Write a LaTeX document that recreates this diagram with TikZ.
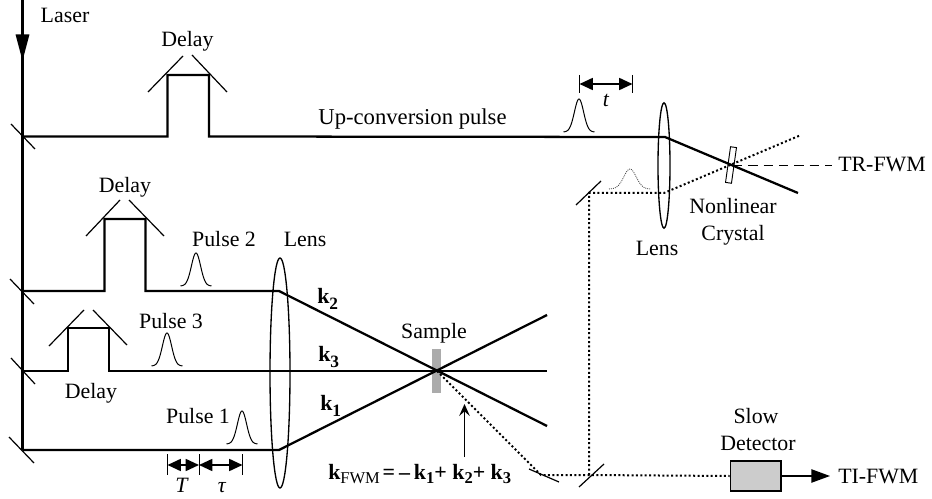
\documentclass[tikz,border=0pt]{standalone}
\usepackage{fontspec}
\setmainfont{Liberation Serif}
\usetikzlibrary{arrows.meta,shapes.geometric}
\tikzset{
  beam/.style={line width=1.7pt,line join=miter},
  optic/.style={line width=0.9pt},
  lensbody/.style={draw,ellipse,line width=1pt,inner sep=0pt},
  sig/.style={line width=1.5pt,dash pattern=on 1.5pt off 1.8pt},
  pulseline/.style={line width=0.75pt},
  faintpulse/.style={line width=0.6pt,dash pattern=on 0.7pt off 0.8pt,black!75},
  lab/.style={anchor=base,inner sep=0pt,font=\fontsize{16.4}{18}\selectfont},
  labl/.style={lab,anchor=base west},
  span/.style={line width=1.3pt,{Triangle[length=10pt,width=9pt]}-{Triangle[length=10pt,width=9pt]}},
  tick/.style={line width=0.6pt}
}
\newcommand{\gpulse}[5]{\draw[#5] plot[domain=-#4:#4,samples=41,smooth] ({#1+\x},{#2-#3*exp(-((\x/(#4*0.42))^2))});}
\newcommand{\ksb}[1]{\textbf{k}\raisebox{-4.6pt}{\fontsize{13}{14}\selectfont\textbf{#1}}}
\newcommand{\keq}[1]{\raisebox{-3.4pt}{\fontsize{12.4}{14}\selectfont #1}}
\begin{document}
\begin{tikzpicture}[x=0.75pt,y=-0.75pt]
\useasboundingbox (0,0) rectangle (932,499);
% named points
\coordinate (top) at (22.5,0);
\coordinate (s1) at (22.5,136.5);
\coordinate (s2) at (22.5,291);
\coordinate (s3) at (22.5,371);
\coordinate (s4) at (22.5,450);
\coordinate (d1a) at (167.5,136.5); \coordinate (d1b) at (167.5,75); \coordinate (d1c) at (209,75); \coordinate (d1d) at (209,136.5);
\coordinate (d2a) at (104.5,291); \coordinate (d2b) at (104.5,219); \coordinate (d2c) at (145.5,219); \coordinate (d2d) at (145.5,291);
\coordinate (d3a) at (68,371); \coordinate (d3b) at (68,328); \coordinate (d3c) at (109,328); \coordinate (d3d) at (109,371);
\coordinate (l1t) at (279,291); \coordinate (l1b) at (279,450);
\coordinate (x) at (437,371);
\coordinate (e1) at (547,315); \coordinate (e2) at (547,426); \coordinate (e3) at (547,371);
\coordinate (l2t) at (665,137); \coordinate (l2b) at (664,193);
\coordinate (uend) at (798,193);
\coordinate (c) at (733,165);
\coordinate (sigend) at (801,135);
\coordinate (m1) at (541,475); \coordinate (m2) at (589,475); \coordinate (m3) at (589,193);
\coordinate (trend) at (832,165);
\coordinate (tiend) at (830,476);
% optics nodes
\node[lensbody,minimum width=15pt,minimum height=172.5pt] (lensA) at (280,373) {};
\node[lensbody,minimum width=9pt,minimum height=94pt] (lensB) at (664,165.5) {};
\node[fill=black!33,inner sep=0pt,minimum width=6.75pt,minimum height=33pt] (sample) at (436.5,371) {};
\node[draw,line width=1pt,fill=black!20,inner sep=0pt,minimum width=38pt,minimum height=22.5pt] (det) at (755.5,476) {};
% laser
\draw[beam,-{Triangle[length=20pt,width=10pt,sep=0pt]}] (top) -- (22.5,61);
\draw[beam] (22.5,55) -- (s4);
% beams
\draw[beam] (s1) -- (d1a) -- (d1b) -- (d1c) -- (d1d) -- (l2t) -- (uend);
\draw[beam] (s2) -- (d2a) -- (d2b) -- (d2c) -- (d2d) -- (l1t) -- (e2);
\draw[beam] (s3) -- (d3a) -- (d3b) -- (d3c) -- (d3d) -- (e3);
\draw[beam] (s4) -- (l1b) -- (e1);
% splitters and mirrors
\draw[optic] (11,124) -- (35,149);
\draw[optic] (10,279) -- (34,304);
\draw[optic] (11,358) -- (35,384);
\draw[optic] (9,437) -- (34,463);
\draw[optic] (148,92) -- (183,56);
\draw[optic] (192,55) -- (227,92);
\draw[optic] (86,236) -- (120,200);
\draw[optic] (129,200) -- (164,236);
\draw[optic] (49,346) -- (84,310);
\draw[optic] (93,310) -- (127,345);
\draw[optic] (529,469) -- (559,482);
\draw[optic] (579,487) -- (604,464);
\draw[optic] (576,205) -- (601,181);
% signal
\draw[sig] (x) -- (m1) -- (m2) -- (det.west);
\draw[sig] (m2) -- (m3) -- (l2b) -- (sigend);
\draw[line width=0.7pt,dash pattern=on 7pt off 4.5pt] (c) -- (trend);
\node[draw,line width=0.7pt,inner sep=0pt,minimum width=4.5pt,minimum height=27pt,rotate=-8] (crystal) at (731,165) {};
% detector arrow
\draw[line width=1pt,-{Triangle[length=14pt,width=10pt]}] (det.east) -- (tiend);
% pulses
\gpulse{196}{286}{33}{15.5}{pulseline}
\gpulse{167}{366}{33}{15.5}{pulseline}
\gpulse{242}{444}{33}{15.5}{pulseline}
\gpulse{579}{132}{33}{15.5}{pulseline}
\gpulse{630}{189}{20}{21}{faintpulse}
% span arrows
\coordinate (Ta) at (167.5,465); \coordinate (Tb) at (199,465); \coordinate (Tc) at (242.5,465);
\coordinate (ta) at (579.5,84); \coordinate (tb) at (632.5,84);
\draw[tick] (167.5,454) -- (167.5,475);
\draw[tick] (199,454) -- (199,475);
\draw[tick] (242.5,454) -- (242.5,475);
\draw[tick] (579.5,75) -- (579.5,93);
\draw[tick] (632.5,75) -- (632.5,93);
\draw[span] (Ta) -- (Tb);
\draw[span] (Tb) -- (Tc);
\draw[span] (ta) -- (tb);
% FWM arrow
\coordinate (ka) at (464.5,457); \coordinate (kb) at (464.5,404);
\draw[line width=0.9pt,-{Stealth[length=9pt,width=8pt,inset=3.5pt]}] (ka) -- (kb);
% labels
\node[lab] (tLaser) at (65,23) {Laser};
\node[lab] (tD1) at (187.5,47) {Delay};
\node[lab] (tD2) at (125,193) {Delay};
\node[lab] (tD3) at (91,398) {Delay};
\node[lab] (tP2) at (224,247) {Pulse 2};
\node[lab] (tP3) at (171,328) {Pulse 3};
\node[lab] (tP1) at (198,423) {Pulse 1};
\node[lab] (tL1) at (305,247) {Lens};
\node[lab,font=\fontsize{17}{18}\selectfont] (tUp) at (412.5,125) {Up-conversion pulse};
\node[lab] (tS) at (434,338) {Sample};
\node[lab] (tT) at (182,492) {\textit{T}};
\node[lab] (ttau) at (222,492) {\textit{τ}};
\node[lab] (tt) at (606,107) {\textit{t}};
\node[labl] (k2) at (317,303) {\ksb{2}};
\node[labl] (k3) at (318,361) {\ksb{3}};
\node[labl] (k1) at (320,410) {\ksb{1}};
\node[labl] (eq) at (328,479) {\textbf{k}\keq{FWM}\kern2pt\textbf{=\kern3pt–\kern3pt k}\keq{\textbf{1}}\textbf{+ k}\keq{\textbf{2}}\textbf{+ k}\keq{\textbf{3}}};
\node[lab] (tNL) at (733,214) {Nonlinear};
\node[lab] (tCr) at (733,241) {Crystal};
\node[lab] (tL2) at (657,255) {Lens};
\node[labl] (tTR) at (838,172) {TR-FWM};
\node[labl] (tTI) at (838,483) {TI-FWM};
\node[lab] (tSl) at (756,423) {Slow};
\node[lab] (tDe) at (758,450) {Detector};
\end{tikzpicture}
\end{document}
